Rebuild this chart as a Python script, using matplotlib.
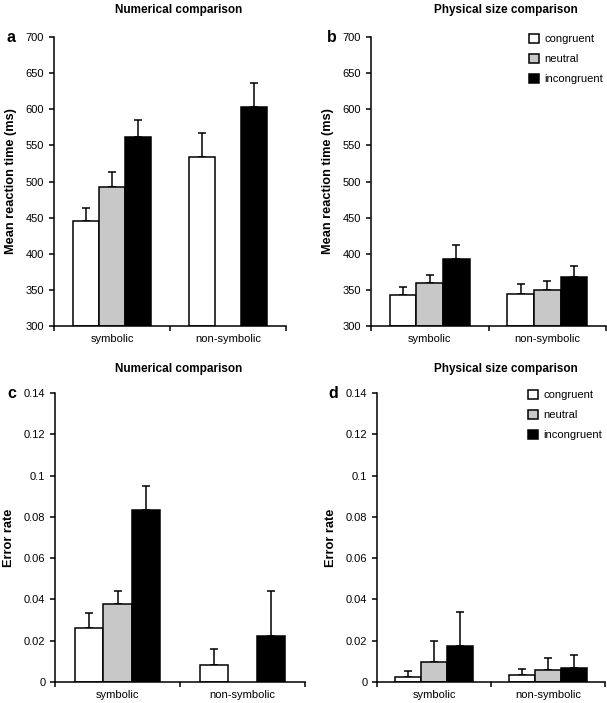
import numpy as np
import matplotlib.pyplot as plt
from matplotlib.patches import Patch

plt.rcParams['font.family'] = ['Liberation Sans', 'DejaVu Sans']
plt.rcParams['font.size'] = 8

# data
groups = ['symbolic', 'non-symbolic']
conditions = ['congruent', 'neutral', 'incongruent']
colors = ['white', '#c8c8c8', 'black']

rt_num = [[445, 493, 562], [534, np.nan, 603]]
rt_num_err = [[18, 20, 23], [33, 0, 33]]
rt_phys = [[343, 359, 393], [344, 350, 368]]
rt_phys_err = [[11, 11, 19], [14, 12, 15]]

er_num = [[0.0264, 0.0377, 0.0832], [0.0081, np.nan, 0.0225]]
er_num_err = [[0.0068, 0.0064, 0.0116], [0.0077, 0, 0.0216]]
er_phys = [[0.0024, 0.0097, 0.0173], [0.0036, 0.0060, 0.0069]]
er_phys_err = [[0.0029, 0.0100, 0.0168], [0.0029, 0.0058, 0.0063]]

fig = plt.figure(figsize=(6.07, 7.03), dpi=100)

W, H = 607, 703
def axpos(l, r, t, b):
    return [l / W, 1 - b / H, (r - l) / W, (b - t) / H]

ax_a = fig.add_axes(axpos(54, 286, 37, 326))
ax_b = fig.add_axes(axpos(371, 606, 37, 326))
ax_c = fig.add_axes(axpos(55, 305, 393, 682))
ax_d = fig.add_axes(axpos(377, 605, 393, 682))

bw = 0.227

def draw(ax, vals, errs, ylim, yticks, ylabel, legend=False):
    x = np.arange(len(groups))
    vals = np.array(vals, dtype=float)
    errs = np.array(errs, dtype=float)
    for i, (cond, col) in enumerate(zip(conditions, colors)):
        xi = x + (i - 1) * bw
        v = vals[:, i]
        e = errs[:, i]
        ok = ~np.isnan(v)
        ax.bar(xi[ok], v[ok] - ylim[0], bottom=ylim[0], width=bw, color=col,
               edgecolor='black', linewidth=1.1, zorder=2, label=cond)
        ax.errorbar(xi[ok], v[ok], yerr=[np.zeros(ok.sum()), e[ok]], fmt='none',
                    ecolor='black', elinewidth=1.1, capsize=3, capthick=1.1, zorder=1)
    ax.set_xlim(-0.5, 1.5)
    ax.set_ylim(*ylim)
    ax.set_yticks(yticks)
    ax.set_yticklabels(['%g' % t for t in yticks])
    ax.set_xticks([-0.5, 0.5, 1.5])
    ax.set_xticklabels([])
    ax.set_xticks(x, minor=True)
    ax.set_xticklabels(groups, minor=True)
    ax.tick_params(axis='x', which='minor', length=0, pad=6)
    ax.tick_params(axis='both', which='major', direction='out', length=3.5, width=1.1, labelsize=8)
    for s in ['top', 'right']:
        ax.spines[s].set_visible(False)
    for s in ['left', 'bottom']:
        ax.spines[s].set_linewidth(1.1)
    ax.set_ylabel(ylabel, fontweight='bold', fontsize=9.2, labelpad=6)
    if legend:
        handles = [Patch(facecolor=c, edgecolor='black', linewidth=1.1) for c in colors]
        ax.legend(handles, conditions, loc='upper right', bbox_to_anchor=(1.03, 1.045),
                  frameon=False, handlelength=0.9, handleheight=0.9,
                  handletextpad=0.5, labelspacing=0.85, fontsize=8)

draw(ax_a, rt_num, rt_num_err, (300, 700), np.arange(300, 701, 50), 'Mean reaction time (ms)')
draw(ax_b, rt_phys, rt_phys_err, (300, 700), np.arange(300, 701, 50), 'Mean reaction time (ms)', legend=True)
draw(ax_c, er_num, er_num_err, (0, 0.14), np.round(np.arange(0, 0.141, 0.02), 2), 'Error rate')
draw(ax_d, er_phys, er_phys_err, (0, 0.14), np.round(np.arange(0, 0.141, 0.02), 2), 'Error rate', legend=True)

# titles and panel letters
fig.text(179 / W, 1 - 10 / H, 'Numerical comparison', ha='center', va='center', fontweight='bold', fontsize=8.5)
fig.text(506 / W, 1 - 10 / H, 'Physical size comparison', ha='center', va='center', fontweight='bold', fontsize=8.5)
fig.text(179 / W, 1 - 369 / H, 'Numerical comparison', ha='center', va='center', fontweight='bold', fontsize=8.5)
fig.text(506 / W, 1 - 369 / H, 'Physical size comparison', ha='center', va='center', fontweight='bold', fontsize=8.5)
for lab, xp, yp in [('a', 11, 37), ('b', 332, 37), ('c', 12, 393), ('d', 333, 393)]:
    fig.text(xp / W, 1 - yp / H, lab, ha='center', va='center', fontweight='bold', fontsize=11.5)

fig.savefig('out.png', dpi=100)
